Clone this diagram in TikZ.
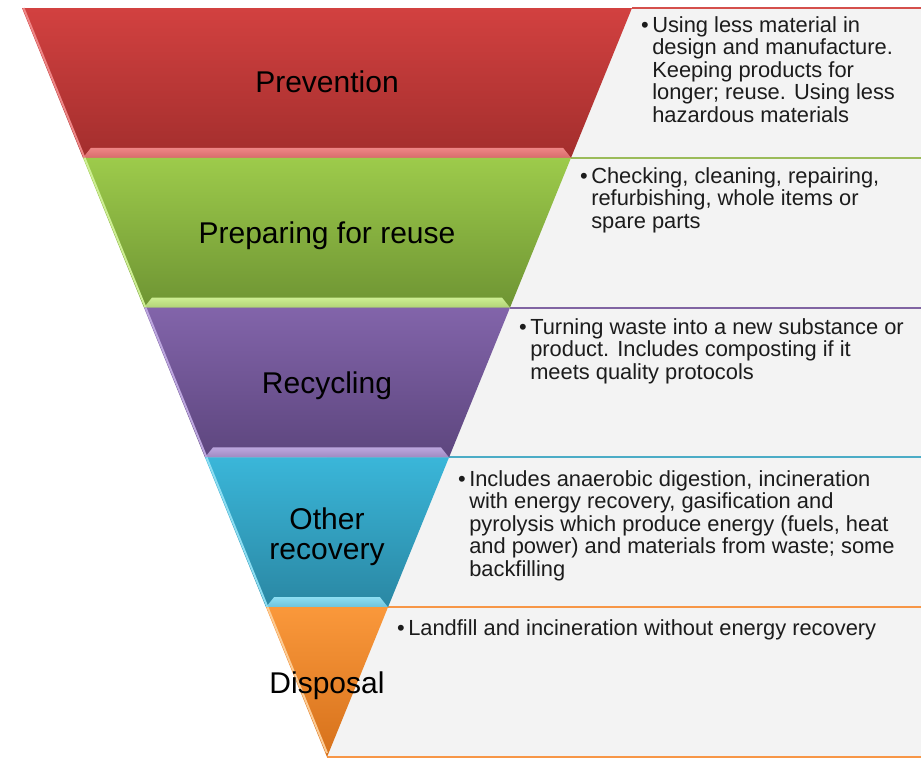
\documentclass[tikz,border=0pt]{standalone}
\usepackage{fontspec}
\setmainfont{Liberation Sans}
\usetikzlibrary{calc}
\definecolor{redtop}{HTML}{D24140}
\definecolor{redbot}{HTML}{A32E2D}
\definecolor{redlight}{HTML}{EE8686}
\definecolor{redline}{HTML}{D5504C}
\definecolor{greentop}{HTML}{9DCB4B}
\definecolor{greenbot}{HTML}{6E9433}
\definecolor{greenlight}{HTML}{CDEE93}
\definecolor{greenline}{HTML}{9BBB59}
\definecolor{purpletop}{HTML}{8264AA}
\definecolor{purplebot}{HTML}{5D467E}
\definecolor{purplelight}{HTML}{BCA6DE}
\definecolor{purpleline}{HTML}{8064A2}
\definecolor{cyantop}{HTML}{3AB6D9}
\definecolor{cyanbot}{HTML}{2A87A3}
\definecolor{cyanlight}{HTML}{8CDDF2}
\definecolor{cyanline}{HTML}{4BACC6}
\definecolor{orangetop}{HTML}{FA983B}
\definecolor{orangebot}{HTML}{D6711B}
\definecolor{orangelight}{HTML}{FCCB94}
\definecolor{orangeline}{HTML}{F79646}
\definecolor{boxgray}{HTML}{F3F3F3}
\definecolor{textdark}{HTML}{1C1C1C}
\tikzstyle{descbox} = [fill=boxgray, draw=none]
\tikzstyle{boxline} = [line width=1.6pt]
\tikzstyle{edgeline} = [line width=1.5pt]
\tikzstyle{tierlabel} = [font=\fontsize{22.5}{22.5}\selectfont, align=center, inner sep=0pt, anchor=base]
\tikzstyle{tiertext} = [font=\fontsize{16.4}{16.9}\selectfont, align=left, inner sep=0pt, anchor=north west, text=textdark]
\newcommand{\tierbullet}{\llap{\textbullet\hspace{2.6pt}}}
\begin{document}
\begin{tikzpicture}[x=0.75pt, y=-0.75pt]
    \useasboundingbox [fill=white] (0,0) rectangle (921,761);
    % Text boxes
    \fill [descbox] (327,8) rectangle (921,157.8);
    \fill [descbox] (327,157.8) rectangle (921,307.6);
    \fill [descbox] (327,307.6) rectangle (921,457.4);
    \fill [descbox] (327,457.4) rectangle (921,607.2);
    \fill [descbox] (327,607.2) rectangle (921,757);
    \draw [boxline, redline] (632,8) -- (921,8);
    \draw [boxline, greenline] (571,157.8) -- (921,157.8);
    \draw [boxline, purpleline] (510,307.6) -- (921,307.6);
    \draw [boxline, cyanline] (449,457.4) -- (921,457.4);
    \draw [boxline, orangeline] (388,607.2) -- (921,607.2);
    \draw [boxline, orangeline] (327,757) -- (921,757);
    % Funnel bands
    \shade [top color=redtop, bottom color=redbot] (22,8) -- (632,8) -- (571,157.8) -- (83,157.8) -- cycle;
    \shade [top color=redlight, bottom color=redlight!70!redbot] (91,147.8) -- (563,147.8) -- (571,157.8) -- (83,157.8) -- cycle;
    \draw [edgeline, redlight] (23.5,8) -- (84.5,157.8);
    \shade [top color=greentop, bottom color=greenbot] (83,157.8) -- (571,157.8) -- (510,307.6) -- (144,307.6) -- cycle;
    \shade [top color=greenlight, bottom color=greenlight!70!greenbot] (152,297.6) -- (502,297.6) -- (510,307.6) -- (144,307.6) -- cycle;
    \draw [edgeline, greenlight] (84.5,157.8) -- (145.5,307.6);
    \shade [top color=purpletop, bottom color=purplebot] (144,307.6) -- (510,307.6) -- (449,457.4) -- (205,457.4) -- cycle;
    \shade [top color=purplelight, bottom color=purplelight!70!purplebot] (213,447.4) -- (441,447.4) -- (449,457.4) -- (205,457.4) -- cycle;
    \draw [edgeline, purplelight] (145.5,307.6) -- (206.5,457.4);
    \shade [top color=cyantop, bottom color=cyanbot] (205,457.4) -- (449,457.4) -- (388,607.2) -- (266,607.2) -- cycle;
    \shade [top color=cyanlight, bottom color=cyanlight!70!cyanbot] (274,597.2) -- (380,597.2) -- (388,607.2) -- (266,607.2) -- cycle;
    \draw [edgeline, cyanlight] (206.5,457.4) -- (267.5,607.2);
    \shade [top color=orangetop, bottom color=orangebot] (266,607.2) -- (388,607.2) -- (327,757) -- cycle;
    \draw [edgeline, orangelight] (267.5,607.2) -- (327,753);
    % Tier labels
    \node [tierlabel] (prevention) at (327,92) {Prevention};
    \node [tierlabel] (reuse) at (327,243) {Preparing for reuse};
    \node [tierlabel] (recycling) at (327,393) {Recycling};
    \node [tierlabel, anchor=north] (recovery) at (327,507) {Other\\recovery};
    \node [tierlabel] (disposal) at (327,693) {Disposal};
    % Descriptions
    \node [tiertext] (preventiontext) at (652,16) {\tierbullet Using less material in\\design and manufacture.\\Keeping products for\\longer; reuse. Using less\\hazardous materials};
    \node [tiertext] (reusetext) at (591,167) {\tierbullet Checking, cleaning, repairing,\\refurbishing, whole items or\\spare parts};
    \node [tiertext] (recyclingtext) at (530,318) {\tierbullet Turning waste into a new substance or\\product. Includes composting if it\\meets quality protocols};
    \node [tiertext] (recoverytext) at (469,470) {\tierbullet Includes anaerobic digestion, incineration\\with energy recovery, gasification and\\pyrolysis which produce energy (fuels, heat\\and power) and materials from waste; some\\backfilling};
    \node [tiertext] (disposaltext) at (408,619) {\tierbullet Landfill and incineration without energy recovery};
\end{tikzpicture}
\end{document}
